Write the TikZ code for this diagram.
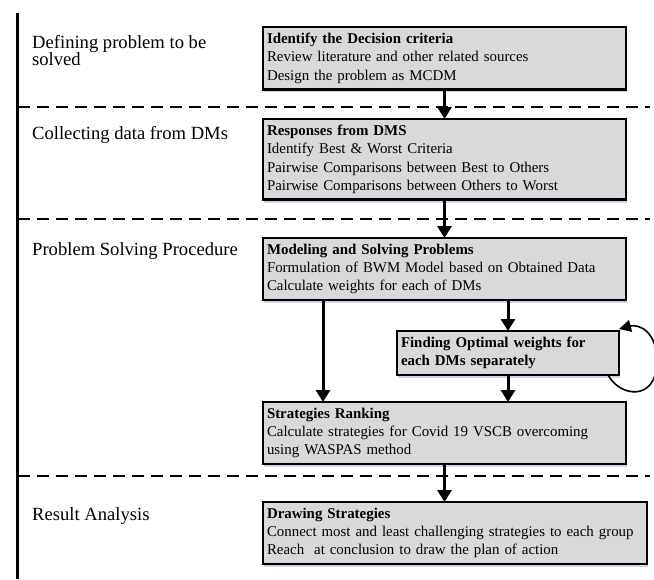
\documentclass[tikz,border=0pt]{standalone}
\usepackage{fontspec}
\setmainfont{Liberation Serif}
\usetikzlibrary{arrows.meta,shadows}
\newcommand*{\stagefont}{\fontsize{14.9}{18.3}\selectfont}
\newcommand*{\phasefont}{\fontsize{18.6}{17.5}\selectfont}

\begin{document}
\begin{tikzpicture}[x=1pt, y=-1pt,
  stagebox/.style={draw=black, line width=2.4pt, fill=black!15,
    anchor=north west, align=left, inner xsep=4pt, inner ysep=6pt,
    outer sep=0pt, font=\stagefont,
    drop shadow={fill=blue!40!gray, opacity=0.25,
      shadow xshift=1pt, shadow yshift=-3pt}},
  phase/.style={anchor=north west, align=left, inner sep=0pt,
    font=\phasefont},
  flow/.style={line width=3pt, -{Triangle[width=14pt,length=12pt]}},
  divider/.style={line width=1.4pt, dash pattern=on 12pt off 7pt}]
  \useasboundingbox (0,0) rectangle (654,579);

  % timeline and phase borders
  \draw[line width=3pt] (17,13) -- (17,579);
  \foreach \y in {107,219,476} {
    \draw[divider] (18,\y) -- (650,\y);
  }

  % phases
  \node[phase] (defining) at (32,35) {Defining problem to be\\solved};
  \node[phase] (collecting) at (32,126) {Collecting data from DMs};
  \node[phase] (solving) at (32,242) {Problem Solving Procedure};
  \node[phase] (analysis) at (32,507) {Result Analysis};

  % stages
  \node[stagebox, text width=355pt] (criteria) at (263,27)
    {\textbf{Identify the Decision criteria}\\
     Review literature and other related sources\\
     Design the problem as MCDM};
  \node[stagebox, text width=355pt] (responses) at (263,119)
    {\textbf{Responses from DMS}\\
     Identify Best \& Worst Criteria\\
     Pairwise Comparisons between Best to Others\\
     Pairwise Comparisons between Others to Worst};
  \node[stagebox, text width=355pt] (modeling) at (263,238)
    {\textbf{Modeling and Solving Problems}\\
     Formulation of BWM Model based on Obtained Data\\
     Calculate weights for each of DMs};
  \node[stagebox, text width=214pt, font=\stagefont\bfseries] (optimal) at (397,331)
    {Finding Optimal weights for\\
     each DMs separately};
  \node[stagebox, text width=355pt] (ranking) at (263,402)
    {\textbf{Strategies Ranking}\\
     Calculate strategies for Covid 19 VSCB overcoming\\
     using WASPAS method};
  \node[stagebox, text width=376pt] (drawing) at (263,502)
    {\textbf{Drawing Strategies}\\
     Connect most and least challenging strategies to each group\\
     Reach\ \ at conclusion to draw the plan of action};

  % flow
  \draw[flow] (criteria.south) -- (responses.north);
  \draw[flow] (responses.south) -- (modeling.north);
  \draw[flow] ([xshift=60pt]modeling.south west) -- ([xshift=60pt]ranking.north west);
  \draw[flow] (modeling.south -| optimal.north) -- (optimal.north);
  \draw[flow] (optimal.south) -- (optimal.south |- ranking.north);
  \draw[flow] (ranking.south) -- (ranking.south |- drawing.north);
  \draw[line width=1.6pt, -{Triangle[width=12pt,length=12pt]}]
    ([xshift=-11pt]optimal.south east) .. controls +(12,22) and (656,402) ..
    (657,362) .. controls (657,330) and (638,324) .. ([yshift=2pt]optimal.north east);
\end{tikzpicture}
\end{document}
